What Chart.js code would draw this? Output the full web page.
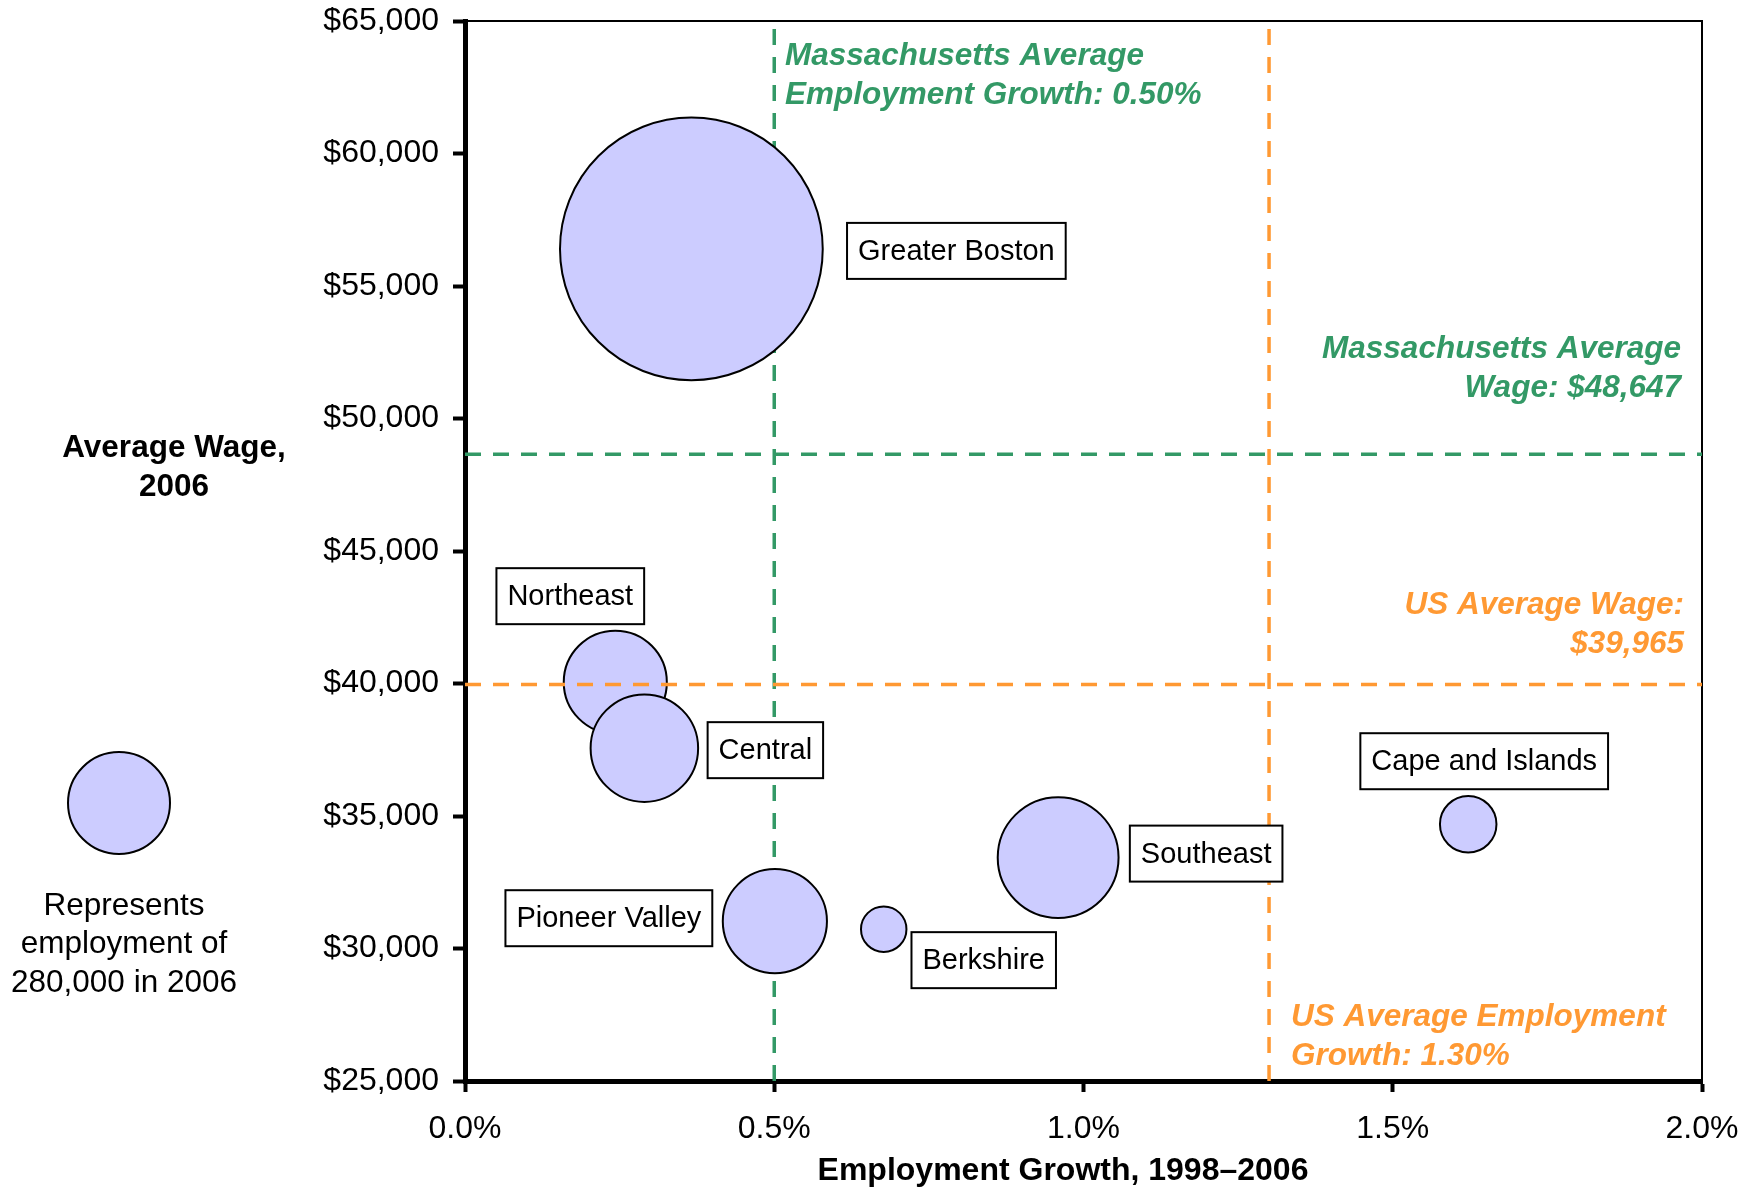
<!DOCTYPE html>
<html>
<head>
<meta charset="utf-8">
<script src="https://cdn.jsdelivr.net/npm/chart.js@4.4.1/dist/chart.umd.min.js"></script>
<style>
    html, body { margin: 0; padding: 0; background: #fff; }
    #wrap { width: 1748px; height: 1188px; position: relative; }
</style>
</head>
<body>
<div id="wrap"><canvas id="bubbleChart"></canvas></div>
<script>
// Regional data
const regions = ['Greater Boston', 'Northeast', 'Central', 'Pioneer Valley', 'Berkshire', 'Southeast', 'Cape and Islands'];
const growthPct = [0.366, 0.243, 0.290, 0.501, 0.677, 0.959, 1.622];
const avgWage = [56400, 40050, 37560, 31030, 30730, 33430, 34690];
const employment = [1858000, 286000, 311000, 292000, 55600, 393000, 86000];

// Reference lines
const maGrowth = 0.50;
const usGrowth = 1.30;
const maWage = 48647;
const usWage = 39965;

// Axis ticks
const xTicks = [0.0, 0.5, 1.0, 1.5, 2.0];
const yTicks = [25000, 30000, 35000, 40000, 45000, 50000, 55000, 60000, 65000];
const legendEmployment = 280000;

const GREEN = '#339966';
const ORANGE = '#FF9933';
const BUBBLE_FILL = '#CCCCFF';
const FONT = '"Liberation Sans", Arial, sans-serif';

// px radius of the 280,000 key bubble; others scale by area
const KEY_RADIUS = 51;
const radiusFor = emp => KEY_RADIUS * Math.sqrt(emp / legendEmployment);

// where each label box sits relative to its bubble centre (px)
const labelOffsets = {
    'Greater Boston': [265, 2],
    'Northeast': [-45, -86],
    'Central': [121, 2],
    'Pioneer Valley': [-166, -3],
    'Berkshire': [100, 31],
    'Southeast': [148, -4],
    'Cape and Islands': [16, -63]
};

const bubbleData = regions.map((name, i) => ({ x: growthPct[i], y: avgWage[i], r: radiusFor(employment[i]) }));

function refLine(points, color, order) {
    return {
        type: 'line',
        data: points,
        borderColor: color,
        borderWidth: 3.5,
        borderDash: [16, 12],
        pointRadius: 0,
        fill: false,
        order: order
    };
}

function drawLines(ctx, lines, x, y, lineHeight, align) {
    ctx.textAlign = align;
    lines.forEach((t, i) => ctx.fillText(t, x, y + i * lineHeight));
}

const decorPlugin = {
    id: 'decor',
    beforeDatasetsDraw(chart) {
        const { ctx, chartArea: a } = chart;
        ctx.save();
        ctx.strokeStyle = '#000';
        ctx.lineWidth = 2;
        ctx.beginPath();
        ctx.moveTo(a.left, a.top);
        ctx.lineTo(a.right, a.top);
        ctx.lineTo(a.right, a.bottom);
        ctx.stroke();
        ctx.restore();
    },
    afterDatasetsDraw(chart) {
        const { ctx } = chart;
        const meta = chart.getDatasetMeta(chart.data.datasets.findIndex(d => d.type === 'bubble'));

        // label boxes
        ctx.save();
        ctx.font = `29px ${FONT}`;
        ctx.textBaseline = 'middle';
        ctx.textAlign = 'center';
        regions.forEach((name, i) => {
            const pt = meta.data[i];
            const [dx, dy] = labelOffsets[name];
            const cx = pt.x + dx, cy = pt.y + dy;
            const w = ctx.measureText(name).width + 22;
            const h = 56;
            ctx.fillStyle = '#fff';
            ctx.fillRect(cx - w / 2, cy - h / 2, w, h);
            ctx.strokeStyle = '#000';
            ctx.lineWidth = 2;
            ctx.strokeRect(cx - w / 2, cy - h / 2, w, h);
            ctx.fillStyle = '#000';
            ctx.fillText(name, cx, cy + 1);
        });

        // reference annotations
        ctx.font = `italic bold 31.5px ${FONT}`;
        ctx.fillStyle = GREEN;
        drawLines(ctx, ['Massachusetts Average', 'Employment Growth: 0.50%'], 785, 56, 39, 'left');
        drawLines(ctx, ['Massachusetts Average', 'Wage: $48,647'], 1681, 349, 39, 'right');
        ctx.fillStyle = ORANGE;
        drawLines(ctx, ['US Average Wage:', '$39,965'], 1684, 605, 39, 'right');
        drawLines(ctx, ['US Average Employment', 'Growth: 1.30%'], 1291, 1017, 39, 'left');

        // axis titles
        ctx.fillStyle = '#000';
        ctx.font = `bold 31.5px ${FONT}`;
        drawLines(ctx, ['Average Wage,', '2006'], 174, 448, 39, 'center');
        ctx.font = `bold 32px ${FONT}`;
        drawLines(ctx, ['Employment Growth, 1998\u20132006'], 1063, 1171, 0, 'center');

        // size key
        ctx.beginPath();
        ctx.ellipse(119, 803, radiusFor(legendEmployment), radiusFor(legendEmployment), 0, 0, Math.PI * 2);
        ctx.fillStyle = BUBBLE_FILL;
        ctx.fill();
        ctx.lineWidth = 2;
        ctx.strokeStyle = '#000';
        ctx.stroke();
        ctx.fillStyle = '#000';
        ctx.font = `31.5px ${FONT}`;
        drawLines(ctx, ['Represents', 'employment of', '280,000 in 2006'], 124, 906, 38.5, 'center');
        ctx.restore();
    }
};

new Chart(document.getElementById('bubbleChart'), {
    type: 'bubble',
    data: {
        datasets: [
            refLine([{ x: maGrowth, y: 25000 }, { x: maGrowth, y: 65000 }], GREEN, 3),
            refLine([{ x: 0, y: maWage }, { x: 2, y: maWage }], GREEN, 3),
            refLine([{ x: usGrowth, y: 25000 }, { x: usGrowth, y: 65000 }], ORANGE, 3),
            {
                type: 'bubble',
                data: bubbleData,
                backgroundColor: BUBBLE_FILL,
                borderColor: '#000',
                borderWidth: 2,
                order: 2
            },
            refLine([{ x: 0, y: usWage }, { x: 2, y: usWage }], ORANGE, 1)
        ]
    },
    options: {
        responsive: true,
        maintainAspectRatio: false,
        animation: false,
        layout: { autoPadding: false, padding: { top: 21, right: 46, left: 0, bottom: 0 } },
        plugins: {
            legend: { display: false },
            tooltip: { enabled: false }
        },
        scales: {
            x: {
                type: 'linear',
                min: 0,
                max: 2,
                afterBuildTicks: scale => { scale.ticks = xTicks.map(v => ({ value: v })); },
                afterFit: scale => {
                    scale.height = 107;
                    scale.paddingLeft = 0;
                    scale.paddingRight = 0;
                },
                ticks: {
                    color: '#000',
                    font: { family: FONT, size: 32 },
                    padding: 18,
                    callback: v => v.toFixed(1) + '%'
                },
                grid: { drawOnChartArea: false, tickLength: 11, tickWidth: 4, tickColor: '#000' },
                border: { color: '#000', width: 5 }
            },
            y: {
                type: 'linear',
                min: 25000,
                max: 65000,
                afterBuildTicks: scale => { scale.ticks = yTicks.map(v => ({ value: v })); },
                afterFit: scale => {
                    scale.width = 465;
                    scale.paddingTop = 0;
                    scale.paddingBottom = 0;
                },
                ticks: {
                    color: '#000',
                    font: { family: FONT, size: 32 },
                    padding: 14,
                    callback: v => '$' + v.toLocaleString('en-US')
                },
                grid: { drawOnChartArea: false, tickLength: 12, tickWidth: 4, tickColor: '#000' },
                border: { color: '#000', width: 5 }
            }
        }
    },
    plugins: [decorPlugin]
});
</script>
</body>
</html>
